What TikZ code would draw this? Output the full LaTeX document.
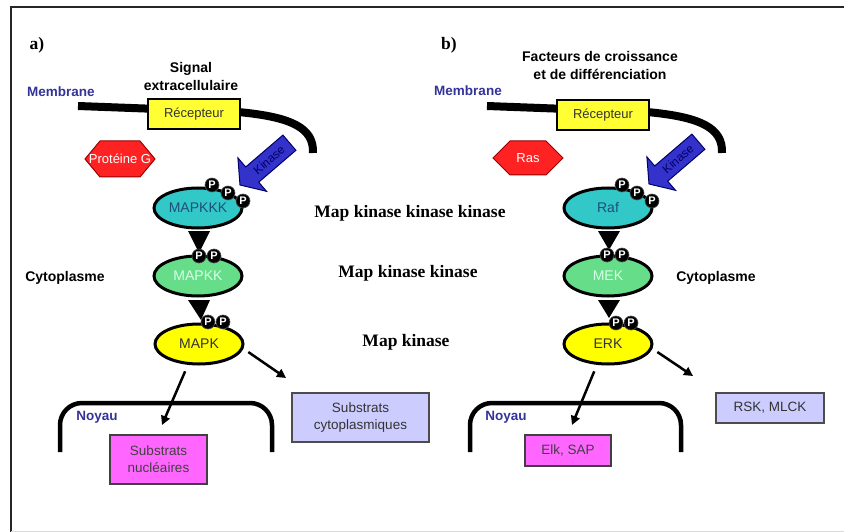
\documentclass[tikz,border=0pt]{standalone}
\usepackage{fontspec}
\setmainfont{Liberation Sans}
\newfontfamily\serifbf{Liberation Serif}
\usetikzlibrary{shapes.geometric,arrows.meta}
\definecolor{membblue}{HTML}{333399}
\definecolor{cyanE}{HTML}{33C8C8}
\definecolor{greenE}{HTML}{66DD88}
\definecolor{yellowE}{HTML}{FFFF00}
\definecolor{recY}{HTML}{FFFF33}
\definecolor{hexR}{HTML}{FF2222}
\definecolor{hexD}{HTML}{990000}
\definecolor{kinB}{HTML}{3333CC}
\definecolor{kinD}{HTML}{000066}
\definecolor{magB}{HTML}{FF66FF}
\definecolor{lavB}{HTML}{CCCCFF}
\definecolor{tealT}{HTML}{1F4E79}
\definecolor{lightT}{HTML}{D8FFE6}
\begin{document}
\begin{tikzpicture}[x=1pt,y=-1pt,
  lab/.style={font=\fontsize{14}{18}\selectfont\bfseries, align=center},
  blab/.style={font=\fontsize{13.5}{16}\selectfont\bfseries, text=membblue},
  serl/.style={font=\serifbf\fontsize{17.5}{20}\selectfont\bfseries},
  enz/.style={ellipse, draw, line width=3pt, minimum width=88pt, minimum height=40pt, inner sep=0pt, font=\fontsize{14}{16}\selectfont},
  pp/.style={circle, fill=black, draw=black!70, line width=0.6pt, minimum size=14pt, inner sep=0pt, text=white, font=\fontsize{11}{11}\selectfont\bfseries},
  memb/.style={line width=8pt},
  nuc/.style={line width=4.5pt, rounded corners=22pt},
  arr/.style={line width=2.5pt, -{Triangle[length=9pt,width=9pt]}},
  recbox/.style={draw, line width=1.3pt, fill=recY, minimum width=92pt, minimum height=30pt, inner sep=0pt, font=\fontsize{13}{15}\selectfont, text=black!80},
  hexa/.style={fill=hexR, draw=hexD, line width=1pt},
  hextext/.style={text=white, font=\fontsize{13}{15}\selectfont},
  kinarrow/.style={fill=kinB, draw=kinD, line width=1pt},
  kintext/.style={rotate=40.5, text=kinD, font=\fontsize{12}{14}\selectfont},
  tri/.style={fill=black},
  nucbox/.style={draw=black!75, line width=1.3pt, fill=magB, inner sep=0pt, align=center, font=\fontsize{13.5}{17}\selectfont, text=black!75},
  cytbox/.style={draw=black!70, line width=1.3pt, fill=lavB, inner sep=0pt, align=center, font=\fontsize{13.5}{17}\selectfont, text=black!80}
]
\useasboundingbox (0,0) rectangle (844,532);
% frame
\draw[line width=2.5pt, black!85] (844,7) -- (11,7) -- (11,532);
\draw[line width=0.8pt, black!15] (11,531) -- (844,531);

% ---------------- panel a ----------------
\node[serl] (la) at (37,45) {a)};
\node[lab] (siga) at (191,76) {Signal\\extracellulaire};
\node[blab] (memba) at (61,92) {Membrane};
\coordinate (ma1) at (78,106);
\coordinate (ma2) at (313,153);
\draw[memb] (ma1) -- (238,112) .. controls (292,117) and (314,128) .. (ma2);
\node[recbox] (reca) at (194,114) {Récepteur};

\draw[hexa] (85,159) -- (100,141) -- (140,141) -- (155,159) -- (140,177) -- (100,177) -- cycle;
\node[hextext] (protg) at (120,159) {Protéine G};

\draw[kinarrow] (240,185) -- (266.5,191.3) -- (258.7,182.2) -- (295.9,150.3) -- (282.9,135.1) -- (245.7,167.0) -- (237.9,157.9) -- cycle;
\node[kintext] (kina) at (269,160) {Kinase};

\fill[tri] (188,231) -- (210,231) -- (199,253) -- cycle;
\fill[tri] (188,300) -- (210,300) -- (201,320) -- cycle;

\node[enz, fill=cyanE, text=tealT] (mapkkk) at (198,208) {MAPKKK};
\node[enz, fill=greenE, text=lightT] (mapkk) at (198,276) {MAPKK};
\node[enz, fill=yellowE, text=black!80] (mapk) at (199,344) {MAPK};

\node[pp] (pa1) at (212,185) {P};
\node[pp] (pa2) at (228,193) {P};
\node[pp] (pa3) at (243,201) {P};
\node[pp] (pa4) at (199,256) {P};
\node[pp] (pa5) at (214,256) {P};
\node[pp] (pa6) at (208,322) {P};
\node[pp] (pa7) at (223,322) {P};

\node[lab] (cyta) at (65,278) {Cytoplasme};
\node[serl] (mkkk) at (410,213) {Map kinase kinase kinase};
\node[serl] (mkk) at (408,273) {Map kinase kinase};
\node[serl] (mk) at (406,342) {Map kinase};

\coordinate (nla) at (60,452);
\coordinate (nra) at (272,452);
\draw[nuc] (nla) -- (60,403) -- (272,403) -- (nra);
\node[blab] (noya) at (97,417) {Noyau};

\node[nucbox, minimum width=97pt, minimum height=49pt] (subnuc) at (158.5,459.5) {Substrats\\nucléaires};
\node[cytbox, minimum width=137pt, minimum height=49pt] (subcyt) at (360.5,417.5) {Substrats\\cytoplasmiques};

\coordinate (ea1) at (286,378);
\coordinate (ea2) at (162,425);
\draw[arr, shorten <=6pt] (mapk.-6) -- (ea1);
\draw[arr, shorten <=7pt] (mapk.-118) -- (ea2);

% ---------------- panel b ----------------
\node[serl] (lb) at (449,45) {b)};
\node[lab] (facb) at (600,65) {Facteurs de croissance\\et de différenciation};
\node[blab] (membb) at (468,91) {Membrane};
\coordinate (mb1) at (487,106);
\coordinate (mb2) at (722,153);
\draw[memb] (mb1) -- (647,112) .. controls (701,117) and (723,128) .. (mb2);
\node[recbox] (recb) at (603,115) {Récepteur};

\draw[hexa] (493,158) -- (510,141) -- (546,141) -- (563,158) -- (546,175) -- (510,175) -- cycle;
\node[hextext] (ras) at (528,158) {Ras};

\begin{scope}[xshift=409pt, yshift=1pt]
\draw[kinarrow] (240,185) -- (266.5,191.3) -- (258.7,182.2) -- (295.9,150.3) -- (282.9,135.1) -- (245.7,167.0) -- (237.9,157.9) -- cycle;
\node[kintext] (kinb) at (269,160) {Kinase};
\end{scope}

\fill[tri] (598,231) -- (620,231) -- (609,250) -- cycle;
\fill[tri] (598,300) -- (620,300) -- (609,318) -- cycle;

\node[enz, fill=cyanE, text=tealT] (raf) at (608,208) {Raf};
\node[enz, fill=greenE, text=lightT] (mek) at (608,276) {MEK};
\node[enz, fill=yellowE, text=black!80] (erk) at (608,344) {ERK};

\node[pp] (pb1) at (622,185) {P};
\node[pp] (pb2) at (637,193) {P};
\node[pp] (pb3) at (652,201) {P};
\node[pp] (pb4) at (607,255) {P};
\node[pp] (pb5) at (622,255) {P};
\node[pp] (pb6) at (616,323) {P};
\node[pp] (pb7) at (631,323) {P};

\node[lab] (cytb) at (716,278) {Cytoplasme};

\coordinate (nlb) at (470,452);
\coordinate (nrb) at (681,452);
\draw[nuc] (nlb) -- (470,403) -- (681,403) -- (nrb);
\node[blab] (noyb) at (506,417) {Noyau};

\node[nucbox, minimum width=86pt, minimum height=31pt] (elk) at (568,450.5) {Elk, SAP};
\node[cytbox, minimum width=108pt, minimum height=30pt] (rsk) at (770,408) {RSK, MLCK};

\coordinate (eb1) at (693,376);
\coordinate (eb2) at (572,425);
\draw[arr, shorten <=6pt] (erk.-6) -- (eb1);
\draw[arr, shorten <=7pt] (erk.-118) -- (eb2);
\end{tikzpicture}
\end{document}
